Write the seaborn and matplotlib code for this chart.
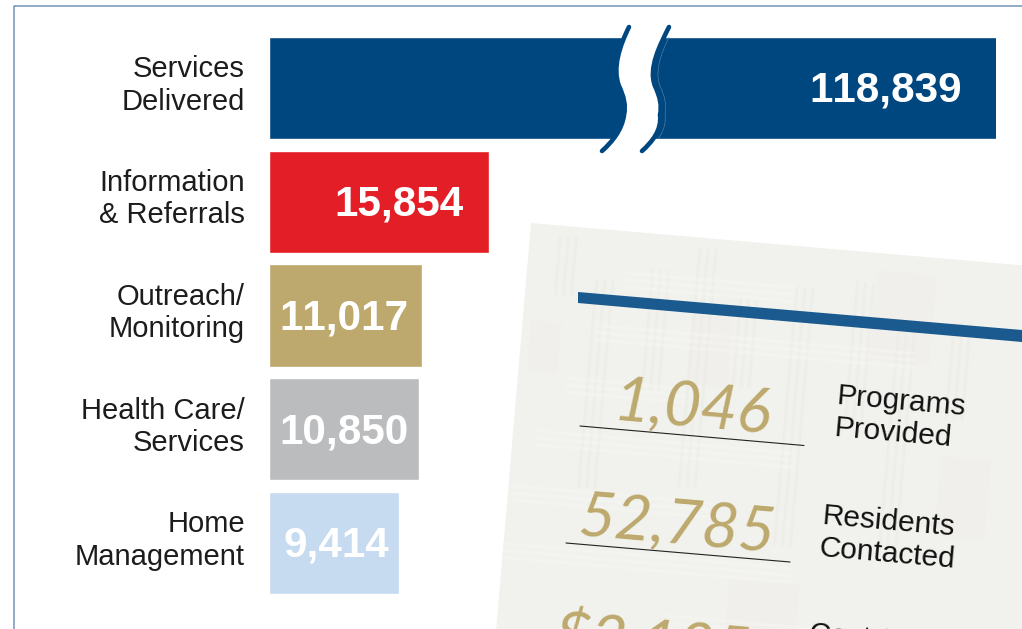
import matplotlib
matplotlib.use("Agg")
import matplotlib.pyplot as plt
from matplotlib.patches import PathPatch, Polygon, Rectangle
from matplotlib.path import Path
from matplotlib.transforms import Affine2D, ScaledTranslation
import pandas as pd
import seaborn as sns

# ---- data ----
categories = ["Services\nDelivered", "Information\n& Referrals", "Outreach/\nMonitoring",
              "Health Care/\nServices", "Home\nManagement"]
values = [118839, 15854, 11017, 10850, 9414]
value_labels = ["118,839", "15,854", "11,017", "10,850", "9,414"]
bar_colors = ["#00467f", "#e41e26", "#bda96d", "#bbbcbe", "#c6daf0"]
stat_numbers = ["1,046", "52,785", "$2,135"]
stat_labels = [["Programs", "Provided"], ["Residents", "Contacted"], ["Cost Savings", ""]]

# ---- layout helpers (pixels of the 1022x629 figure) ----
W, H = 1022, 629
AX_X = (269, 996)
AX_Y = (31.1, 599.9)
X_MAX = 52500  # the first bar runs past the axis end and is shown with a break
LABEL_PADS = [34, 25, 13, 11, 10]

sns.set_theme(style="white")
plt.rcParams["font.family"] = ["Liberation Sans", "DejaVu Sans"]
plt.rcParams["text.kerning_factor"] = 6
fig = plt.figure(figsize=(W / 100, H / 100), dpi=100)
ax = fig.add_axes([AX_X[0] / W, 1 - AX_Y[1] / H, (AX_X[1] - AX_X[0]) / W, (AX_Y[1] - AX_Y[0]) / H])
ax.patch.set_alpha(0)

df = pd.DataFrame({"category": categories, "value": values})
sns.barplot(data=df, y="category", x="value", hue="category", palette=bar_colors,
            legend=False, width=0.9, saturation=1, ax=ax)
ax.set_xlim(0, X_MAX)
ax.set_xlabel("")
ax.set_ylabel("")
ax.set_xticks([])
sns.despine(ax=ax, left=True, bottom=True)
ax.tick_params(axis="y", length=0, pad=17.3)
shift_up = ScaledTranslation(0, 5.5 / 72, fig.dpi_scale_trans)
for t in ax.get_yticklabels():
    t.set_fontsize(21)
    t.set_color("#1c1c1c")
    t.set_linespacing(1.19)
    t.set_ha("right")
    t.set_multialignment("right")
    t.set_transform(t.get_transform() + shift_up)

for i, (v, lab, pad) in enumerate(zip(values, value_labels, LABEL_PADS)):
    ax.annotate(lab, (min(v, X_MAX), i), xytext=(-pad * 0.72, 1.2), textcoords="offset points",
                ha="right", va="center_baseline", color="white", fontsize=30.4, fontweight="bold")

# ---- overlay in pixel space ----
deco = fig.add_axes([0, 0, 1, 1], zorder=5)
deco.set_xlim(0, W)
deco.set_ylim(H, 0)
deco.axis("off")

# frame
deco.plot([13.5, 13.5, W], [H, 6, 6], color="#7593b8", lw=1.1)

# axis break
def curve(dx_mid):
    return Path(
        [(629, 27), (620, 45), (612 + dx_mid, 68), (619 + dx_mid, 86),
         (624 + dx_mid, 97), (626 + dx_mid, 105), (624 + dx_mid, 115),
         (622, 130), (612, 142), (602, 151)],
        [Path.MOVETO] + [Path.CURVE4] * 9)

left, right = curve(0), curve(-4)
right_v = right.vertices + [40, 0]
gap = Path(list(left.vertices) + list(right_v[::-1]) + [left.vertices[0]],
           [Path.MOVETO] + [Path.CURVE4] * 9 + [Path.LINETO] + [Path.CURVE4] * 9 + [Path.CLOSEPOLY])
deco.add_patch(PathPatch(gap, fc="white", ec="none", zorder=2))
for verts in (left.vertices, right_v):
    deco.add_patch(PathPatch(Path(verts, left.codes), fc="none", ec="#00467f", lw=3.3,
                             capstyle="round", zorder=3))
hairline = PathPatch(Path(right_v + [5, 0], left.codes), fc="none", ec="#5f8ab0", lw=0.4, zorder=3)
deco.add_patch(hairline)
hairline.set_clip_path(Rectangle((600, 37), 100, 102, transform=deco.transData))

# paper
paper = Polygon([(531, 223), (W + 2, 265.5), (W + 2, H + 2), (496, H + 2)],
                closed=True, fc="#f1f1ed", ec="none", zorder=1)
deco.add_patch(paper)
rot = Affine2D().rotate_deg_around(531, 223, 5) + deco.transData
weave_v = [(560, 60), (600, 210), (655, 120), (700, 240), (745, 90), (800, 260), (860, 140), (905, 220), (960, 100)]
weave_h = [(40, 170), (95, 320), (150, 120), (205, 260), (262, 200), (320, 300), (378, 150)]
blush = [(700, 300, 40, 70), (880, 240, 60, 90), (540, 320, 30, 50), (960, 420, 50, 80), (760, 560, 70, 70)]
for x, y, w, h in blush:
    r = Rectangle((x, y), w, h, fc="#f3ecea", ec="none", alpha=0.35, transform=rot, zorder=1.05)
    deco.add_patch(r)
    r.set_clip_path(paper)
for x, h in weave_v:
    for k in range(3):
        r = Rectangle((x + k * 8, 233 + (x % 70)), 3, h, fc="#e9e9e4", ec="none", alpha=0.35,
                      transform=rot, zorder=1.1)
        deco.add_patch(r)
        r.set_clip_path(paper)
for y, w in weave_h:
    for k in range(3):
        r = Rectangle((510 + (y * 3 % 190), 223 + y + k * 7), w, 3, fc="#f7f7f4", ec="none", alpha=0.45,
                      transform=rot, zorder=1.2)
        deco.add_patch(r)
        r.set_clip_path(paper)

# blue rule and signature lines
deco.add_patch(Polygon([(578, 292), (W, 330), (W, 342), (578, 303)], fc="#1a5a8e", ec="none", zorder=1.5))
deco.plot([580, 804], [426, 445.5], color="#222222", lw=0.8, zorder=1.5)
deco.plot([566, 790], [543, 562], color="#222222", lw=0.8, zorder=1.5)

# handwritten figures and their captions
hand = dict(family="Lato", style="italic", color="#bda96d", fontsize=45.5,
            rotation=-5, rotation_mode="anchor", ha="left", va="baseline", zorder=2)
deco.text(612, 420, stat_numbers[0], **hand)
deco.text(577, 535, stat_numbers[1], **hand)
deco.text(552, 655, stat_numbers[2], clip_on=True, **hand)
cap = dict(color="#111111", fontsize=21.5, rotation=-5, rotation_mode="anchor", ha="left", va="baseline", zorder=2)
deco.text(836, 404, stat_labels[0][0], **cap)
deco.text(833, 436, stat_labels[0][1], **cap)
deco.text(822, 524, stat_labels[1][0], **cap)
deco.text(819, 556, stat_labels[1][1], **cap)
deco.text(809, 642, stat_labels[2][0], clip_on=True, **cap)

fig.savefig("out.png", dpi=100, facecolor="white")
